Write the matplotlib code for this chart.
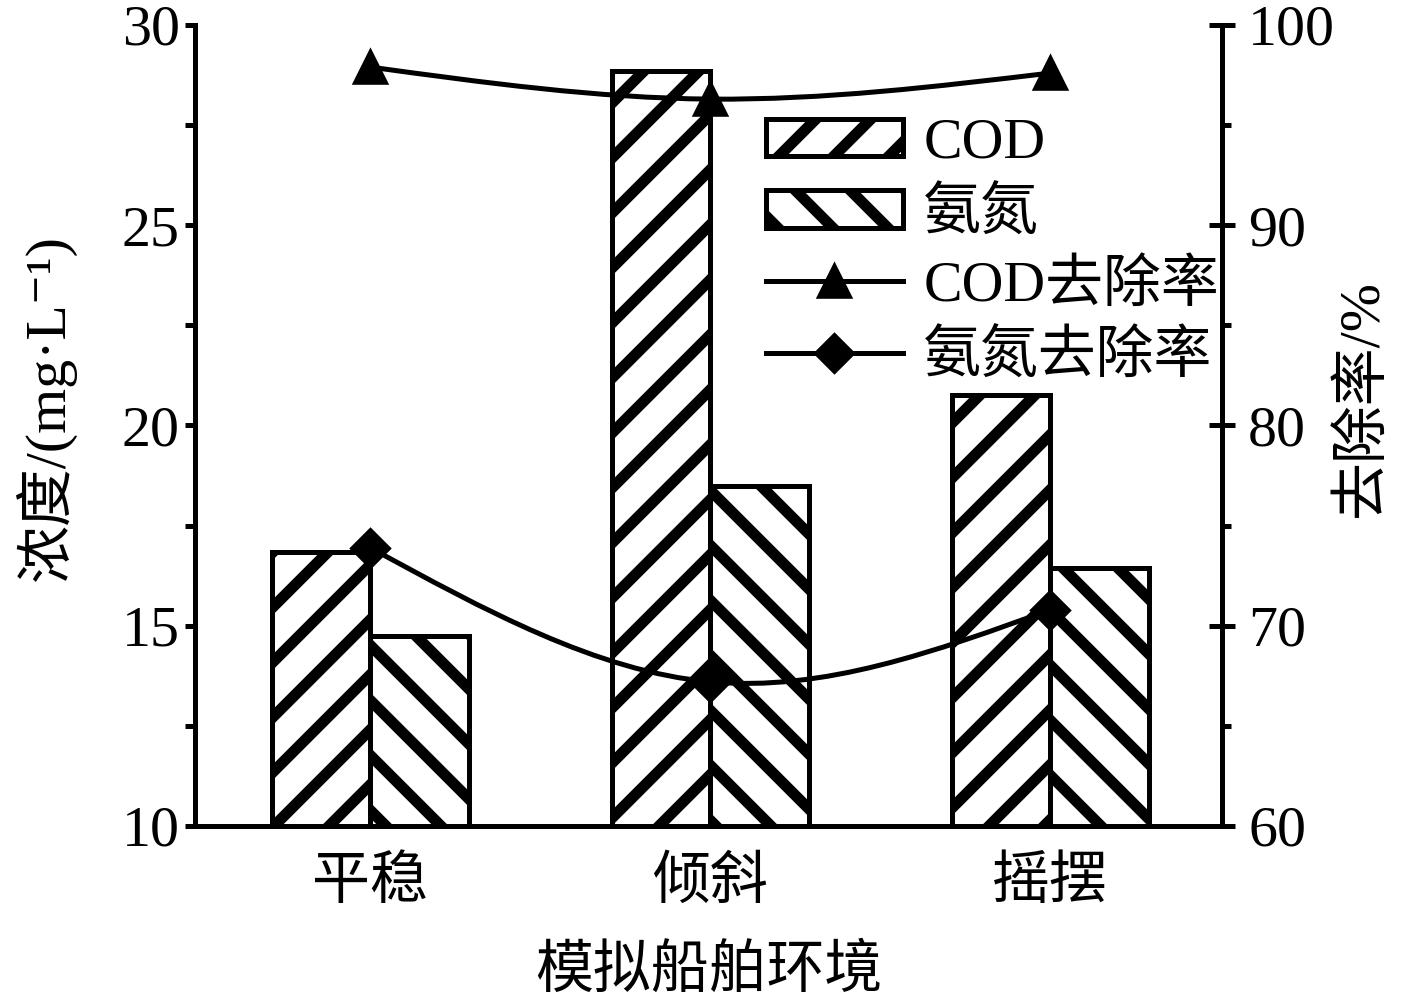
import numpy as np
import matplotlib
matplotlib.use('Agg')
import matplotlib.pyplot as plt
from matplotlib.path import Path
from matplotlib.patches import PathPatch
from matplotlib.lines import Line2D
from matplotlib.ticker import MultipleLocator

categories = ['平稳', '倾斜', '摇摆']
cod_conc = [16.85, 28.85, 20.75]
nh3_conc = [14.75, 18.5, 16.45]
cod_removal = [97.9, 96.3, 97.6]
nh3_removal = [73.9, 67.2, 70.8]

DPI = 330
PT = 72 / DPI  # points per pixel
FS = 58 * PT

plt.rcParams['font.family'] = ['Liberation Serif', 'Noto Sans CJK SC', 'DejaVu Serif']
plt.rcParams['hatch.linewidth'] = 11 * PT
plt.rcParams['axes.unicode_minus'] = False


def smooth_path(xs, ys):
    # natural cubic spline through the points, drawn as bezier segments
    xs = np.asarray(xs, float)
    ys = np.asarray(ys, float)
    n = len(xs)
    h = np.diff(xs)
    A = np.zeros((n, n))
    b = np.zeros(n)
    A[0, 0] = A[-1, -1] = 1
    for i in range(1, n - 1):
        A[i, i - 1] = h[i - 1]
        A[i, i] = 2 * (h[i - 1] + h[i])
        A[i, i + 1] = h[i]
        b[i] = 6 * ((ys[i + 1] - ys[i]) / h[i] - (ys[i] - ys[i - 1]) / h[i - 1])
    M = np.linalg.solve(A, b)
    verts = [(xs[0], ys[0])]
    codes = [Path.MOVETO]
    for i in range(n - 1):
        s = (ys[i + 1] - ys[i]) / h[i]
        d0 = s - h[i] * (2 * M[i] + M[i + 1]) / 6
        d1 = s + h[i] * (M[i] + 2 * M[i + 1]) / 6
        verts += [(xs[i] + h[i] / 3, ys[i] + d0 * h[i] / 3),
                  (xs[i + 1] - h[i] / 3, ys[i + 1] - d1 * h[i] / 3),
                  (xs[i + 1], ys[i + 1])]
        codes += [Path.CURVE4] * 3
    return Path(verts, codes)


fig = plt.figure(figsize=(1417 / DPI, 1001 / DPI), dpi=DPI)
ax1 = fig.add_axes([195 / 1417, 1 - 826 / 1001, (1222 - 195) / 1417, (826 - 25) / 1001])
ax2 = ax1.twinx()

x = np.arange(len(categories))
w = 0.29
b1 = ax1.bar(x - w / 2, cod_conc, w, facecolor='white', edgecolor='black',
             hatch='//', linewidth=5 * PT, label='COD')
b2 = ax1.bar(x + w / 2, nh3_conc, w, facecolor='white', edgecolor='black',
             hatch='\\\\', linewidth=5 * PT, label='氨氮')

ax1.set_xlim(-0.515, 2.505)
ax1.set_ylim(10, 30)
ax1.yaxis.set_major_locator(MultipleLocator(5))
ax1.yaxis.set_minor_locator(MultipleLocator(2.5))
ax1.set_xticks(x)
ax1.set_xticklabels(categories)

ax2.set_ylim(60, 100)
ax2.yaxis.set_major_locator(MultipleLocator(10))
ax2.yaxis.set_minor_locator(MultipleLocator(5))

for ax in (ax1, ax2):
    ax.spines['top'].set_visible(False)
    for s in ('left', 'right', 'bottom'):
        ax.spines[s].set_linewidth(5 * PT)

ax1.tick_params(axis='y', which='major', direction='out', length=10 * PT, width=5 * PT,
                labelsize=FS, pad=5 * PT)
ax1.tick_params(axis='y', which='minor', direction='out', length=10 * PT, width=5 * PT)
ax1.tick_params(axis='x', length=0, pad=30 * PT, labelsize=FS)
ax2.tick_params(axis='y', which='major', direction='inout', length=26 * PT, width=5 * PT,
                labelsize=FS, pad=13 * PT)
ax2.tick_params(axis='y', which='minor', direction='out', length=9 * PT, width=5 * PT)

ax2.add_patch(PathPatch(smooth_path(x, cod_removal), facecolor='none', edgecolor='black',
                        linewidth=5 * PT))
ax2.add_patch(PathPatch(smooth_path(x, nh3_removal), facecolor='none', edgecolor='black',
                        linewidth=5 * PT))
ax2.plot(x, cod_removal, ls='none', marker='^', ms=30 * PT, color='black')
ax2.plot(x, nh3_removal, ls='none', marker='D', ms=26 * PT, color='black')

ax1.set_ylabel('浓度/(mg·L⁻¹)', fontsize=FS, labelpad=10)
ax1.yaxis.label.set_y(0.522)
ax2.set_ylabel('去除率/%', fontsize=FS, labelpad=0)
ax2.yaxis.label.set_y(0.534)
ax1.set_xlabel('模拟船舶环境', fontsize=FS, labelpad=7.5)

h_cod = Line2D([], [], color='black', lw=5 * PT, marker='^', ms=30 * PT)
h_nh3 = Line2D([], [], color='black', lw=5 * PT, marker='D', ms=26 * PT)
ax2.legend([b1, b2, h_cod, h_nh3], ['COD', '氨氮', 'COD去除率', '氨氮去除率'],
           loc='upper left', bbox_to_anchor=(766 / 1417, 1 - 118 / 1001),
           bbox_transform=fig.transFigure, frameon=False, fontsize=FS,
           handlelength=2.36, handleheight=0.62, handletextpad=0.35,
           labelspacing=0.3, borderpad=0, borderaxespad=0)

fig.savefig('out.png', dpi=DPI)
